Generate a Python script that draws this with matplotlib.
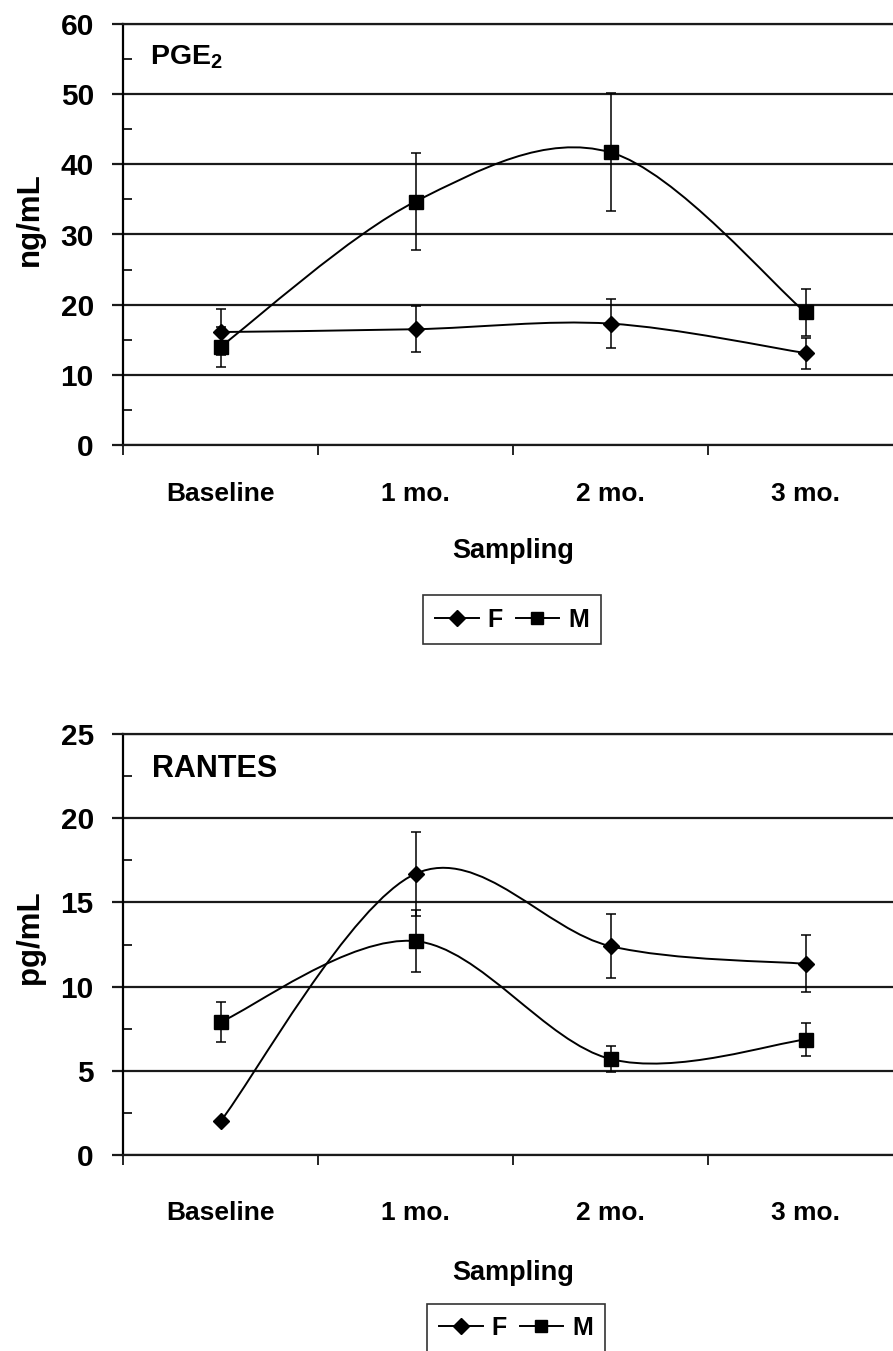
import matplotlib
matplotlib.use('Agg')
import matplotlib.pyplot as plt
from matplotlib.path import Path
from matplotlib.patches import PathPatch
from matplotlib.lines import Line2D
import numpy as np

plt.rcParams['font.family'] = ['Liberation Sans', 'DejaVu Sans']
plt.rcParams['font.weight'] = 'bold'
plt.rcParams['mathtext.fontset'] = 'custom'
plt.rcParams['mathtext.rm'] = 'Liberation Sans:bold'
plt.rcParams['mathtext.bf'] = 'Liberation Sans:bold'
plt.rcParams['mathtext.it'] = 'Liberation Sans:bold'

# ------------------ DADOS ------------------ #
categorias = ['Baseline', '1 mo.', '2 mo.', '3 mo.']

pge_f = [16.1, 16.5, 17.3, 13.1]
pge_f_err = [3.3, 3.25, 3.45, 2.2]
pge_m = [14.0, 34.7, 41.7, 18.9]
pge_m_err = [2.85, 6.9, 8.4, 3.4]

rantes_f = [2.0, 16.7, 12.4, 11.35]
rantes_f_err = [0.15, 2.5, 1.9, 1.7]
rantes_m = [7.9, 12.7, 5.7, 6.85]
rantes_m_err = [1.2, 1.85, 0.8, 1.0]

COR_GRADE = '#1a1a1a'


# ------------------ FUNCOES ------------------ #
def curva_suave(x, y):
    # bezier tipo "linha suavizada" do Excel (catmull-rom)
    pts = list(zip(x, y))
    n = len(pts)
    verts = [pts[0]]
    codes = [Path.MOVETO]
    for i in range(n - 1):
        p0 = pts[max(i - 1, 0)]
        p1 = pts[i]
        p2 = pts[i + 1]
        p3 = pts[min(i + 2, n - 1)]
        c1 = (p1[0] + (p2[0] - p0[0]) / 6, p1[1] + (p2[1] - p0[1]) / 6)
        c2 = (p2[0] - (p3[0] - p1[0]) / 6, p2[1] - (p3[1] - p1[1]) / 6)
        verts += [c1, c2, p2]
        codes += [Path.CURVE4] * 3
    return Path(verts, codes)


def painel(ax, f, f_err, m, m_err, ymax, passo, unidade, titulo, tam_titulo,
           pos_titulo, pos_unidade, y_cat, y_samp):
    x = np.arange(len(categorias))
    ax.set_xlim(-0.5, 3.5)
    ax.set_ylim(0, ymax)

    for serie in (f, m):
        ax.add_patch(PathPatch(curva_suave(x, serie), fill=False,
                               lw=1.4, edgecolor='black', zorder=3))
    for serie, err in ((f, f_err), (m, m_err)):
        ax.errorbar(x, serie, yerr=err, fmt='none', ecolor='black',
                    elinewidth=1.1, capsize=3.5, capthick=1.1, zorder=4)
    ax.plot(x, f, 'D', ms=8, color='black', zorder=5)
    ax.plot(x, m, 's', ms=10.5, color='black', zorder=5)

    # eixo y
    ax.set_yticks(np.arange(0, ymax + 1, passo))
    ax.set_yticks(np.arange(passo / 2, ymax, passo), minor=True)
    ax.tick_params(axis='y', which='major', direction='out', length=8,
                   width=1.6, color=COR_GRADE, labelsize=21.5, pad=13)
    ax.tick_params(axis='y', which='minor', direction='in', length=6.5,
                   width=1.2, color='black')
    ax.grid(axis='y', which='major', color=COR_GRADE, lw=1.6)
    ax.set_axisbelow(True)

    # eixo x
    ax.set_xticks([-0.5, 0.5, 1.5, 2.5, 3.5])
    ax.set_xticklabels([])
    ax.tick_params(axis='x', direction='out', length=7.2, width=1.2,
                   color='black')
    for i, cat in enumerate(categorias):
        ax.text(i, y_cat, cat, transform=ax.get_xaxis_transform(),
                ha='center', va='baseline', fontsize=19)
    ax.text(1.5, y_samp, 'Sampling', transform=ax.get_xaxis_transform(),
            ha='center', va='baseline', fontsize=19.5)

    ax.spines['right'].set_visible(False)
    ax.spines['left'].set_linewidth(1.6)
    ax.spines['left'].set_color('black')
    for lado in ('top', 'bottom'):
        ax.spines[lado].set_linewidth(1.6)
        ax.spines[lado].set_color(COR_GRADE)

    ax.text(pos_unidade[0], pos_unidade[1], unidade, rotation=90,
            transform=ax.transAxes, ha='center', va='center', fontsize=22.5)
    ax.text(pos_titulo[0], pos_titulo[1], titulo, transform=ax.transAxes,
            ha='left', va='baseline', fontsize=tam_titulo)


def legenda(fig, centro):
    handles = [Line2D([], [], color='black', lw=1.4, marker='D', ms=8),
               Line2D([], [], color='black', lw=1.4, marker='s', ms=9)]
    leg = fig.legend(handles, ['F', 'M'], loc='center', bbox_to_anchor=centro,
                     ncol=2, frameon=True, fancybox=False, edgecolor='black',
                     handlelength=1.75, handletextpad=0.35, columnspacing=0.5,
                     borderpad=0.5, prop=dict(size=18, weight='bold'))
    leg.get_frame().set_linewidth(1.2)


# ------------------ FIGURA ------------------ #
fig = plt.figure(figsize=(8.93, 13.51), dpi=100)
ax1 = fig.add_axes([123 / 893, 1 - 445 / 1351, 780 / 893, 421 / 1351])
ax2 = fig.add_axes([123 / 893, 1 - 1155 / 1351, 780 / 893, 421 / 1351])

painel(ax1, pge_f, pge_f_err, pge_m, pge_m_err, 60, 10, 'ng/mL',
       r'PGE$_2$', 20.5, (0.035, 0.903), (-0.119, 0.537), -0.133, -0.268)
painel(ax2, rantes_f, rantes_f_err, rantes_m, rantes_m_err, 25, 5, 'pg/mL',
       'RANTES', 22, (0.037, 0.898), (-0.119, 0.518), -0.154, -0.297)

legenda(fig, (512 / 893, 1 - 620 / 1351))
legenda(fig, (516 / 893, 1 - 1328 / 1351))

fig.savefig('out.png', dpi=100)
